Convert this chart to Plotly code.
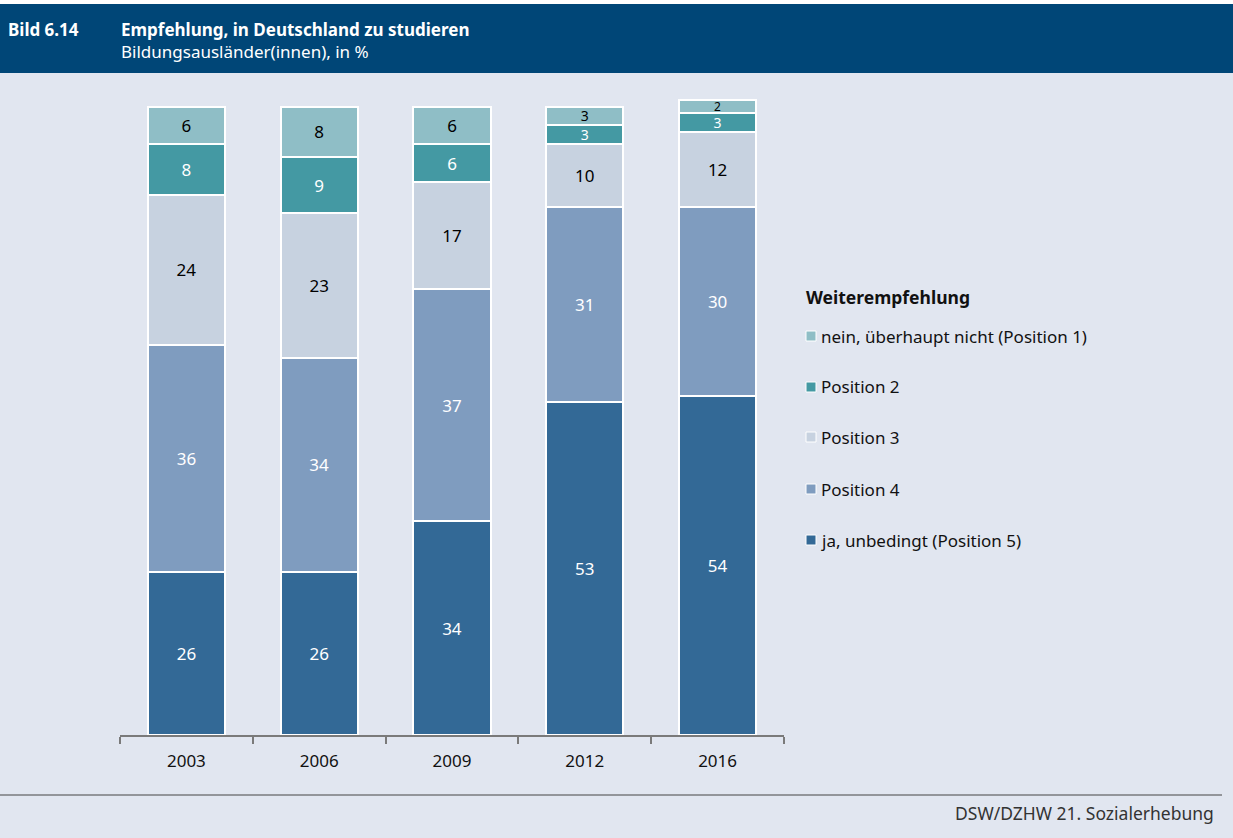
import plotly.graph_objects as go

# Survey waves and answer shares (in %)
years = ["2003", "2006", "2009", "2012", "2016"]
series_names = [
    "ja, unbedingt (Position 5)",
    "Position 4",
    "Position 3",
    "Position 2",
    "nein, überhaupt nicht (Position 1)",
]
pos5 = [26, 26, 34, 53, 54]
pos4 = [36, 34, 37, 31, 30]
pos3 = [24, 23, 17, 10, 12]
pos2 = [8, 9, 6, 3, 3]
pos1 = [6, 8, 6, 3, 2]

values = [pos5, pos4, pos3, pos2, pos1]
colors = ["#336996", "#7f9cbf", "#c7d2e0", "#4499a3", "#8fbec6"]
text_colors = ["white", "white", "black", "white", "black"]

FONT = "Noto Sans"
W, H = 1233, 838
L, R, T, B = 120, 449, 94, 103
PW, PH = W - L - R, H - T - B


def px(x):
    return (x - L) / PW


def py(y):
    return (H - B - y) / PH


def label_size(v):
    # thin segments get a smaller label so neighbours don't collide
    if v <= 2:
        return 12
    if v <= 3:
        return 14
    return 17


fig = go.Figure()
for name, vals, col, tcol in zip(series_names, values, colors, text_colors):
    fig.add_trace(go.Bar(
        x=years, y=vals, name=name,
        marker=dict(color=col, line=dict(color="white", width=2)),
        text=[str(v) for v in vals], textposition="inside",
        insidetextanchor="middle", textangle=0, constraintext="none",
        textfont=dict(color=tcol, size=[label_size(v) for v in vals], family=FONT),
        showlegend=False,
    ))

bg = "#e1e6f0"
shapes = [
    dict(type="rect", xref="paper", yref="paper", x0=px(0), x1=px(W),
         y0=py(4), y1=py(0), fillcolor="white", line_width=0, layer="below"),
    dict(type="rect", xref="paper", yref="paper", x0=px(0), x1=px(W),
         y0=py(73), y1=py(4), fillcolor="#004677", line_width=0, layer="below"),
    dict(type="line", xref="paper", yref="paper", x0=px(0), x1=px(1222),
         y0=py(795), y1=py(795), line=dict(color="#444444", width=1)),
]

annotations = [
    dict(text="<b>Bild 6.14</b>", x=px(6), y=py(29), xref="paper", yref="paper",
         xanchor="left", yanchor="middle", showarrow=False,
         font=dict(family=FONT, size=17, color="white")),
    dict(text="<b>Empfehlung, in Deutschland zu studieren</b>", x=px(119), y=py(29),
         xref="paper", yref="paper", xanchor="left", yanchor="middle", showarrow=False,
         font=dict(family=FONT, size=17, color="white")),
    dict(text="Bildungsausländer(innen), in %", x=px(119), y=py(52),
         xref="paper", yref="paper", xanchor="left", yanchor="middle", showarrow=False,
         font=dict(family=FONT, size=17, color="white")),
    dict(text="DSW/DZHW 21. Sozialerhebung", x=px(1216), y=py(813),
         xref="paper", yref="paper", xanchor="right", yanchor="middle", showarrow=False,
         font=dict(family=FONT, size=17.5, color="#333333")),
    dict(text="<b>Weiterempfehlung</b>", x=px(804), y=py(297),
         xref="paper", yref="paper", xanchor="left", yanchor="middle", showarrow=False,
         font=dict(family=FONT, size=17.5, color="#111111")),
]

# Legend: top entry is position 1, bottom entry position 5
legend_rows = [336, 387, 437, 489, 540]
for row_y, name, col in zip(legend_rows, series_names[::-1], colors[::-1]):
    shapes.append(dict(
        type="rect", xref="paper", yref="paper",
        x0=px(806), x1=px(816), y0=py(row_y + 5), y1=py(row_y - 5),
        fillcolor=col, line=dict(color="white", width=1),
    ))
    annotations.append(dict(
        text=name, x=px(819), y=py(row_y), xref="paper", yref="paper",
        xanchor="left", yanchor="middle", showarrow=False,
        font=dict(family=FONT, size=17, color="#111111"),
    ))

fig.update_layout(
    width=W, height=H,
    margin=dict(l=L, r=R, t=T, b=B, pad=0),
    paper_bgcolor=bg, plot_bgcolor=bg,
    barmode="stack", bargap=0.42,
    font=dict(family=FONT, size=17, color="#111111"),
    showlegend=False,
    xaxis=dict(
        type="category", showline=True, linecolor="#7a7a7a", linewidth=2,
        ticks="outside", tickson="boundaries", ticklen=7, tickcolor="#7a7a7a",
        tickwidth=2, showgrid=False, zeroline=False, ticklabelstandoff=10,
        tickfont=dict(family=FONT, size=17, color="#111111"),
    ),
    yaxis=dict(range=[0, 102], visible=False, showgrid=False, zeroline=False),
    shapes=shapes, annotations=annotations,
)

fig.write_html("out.html")
